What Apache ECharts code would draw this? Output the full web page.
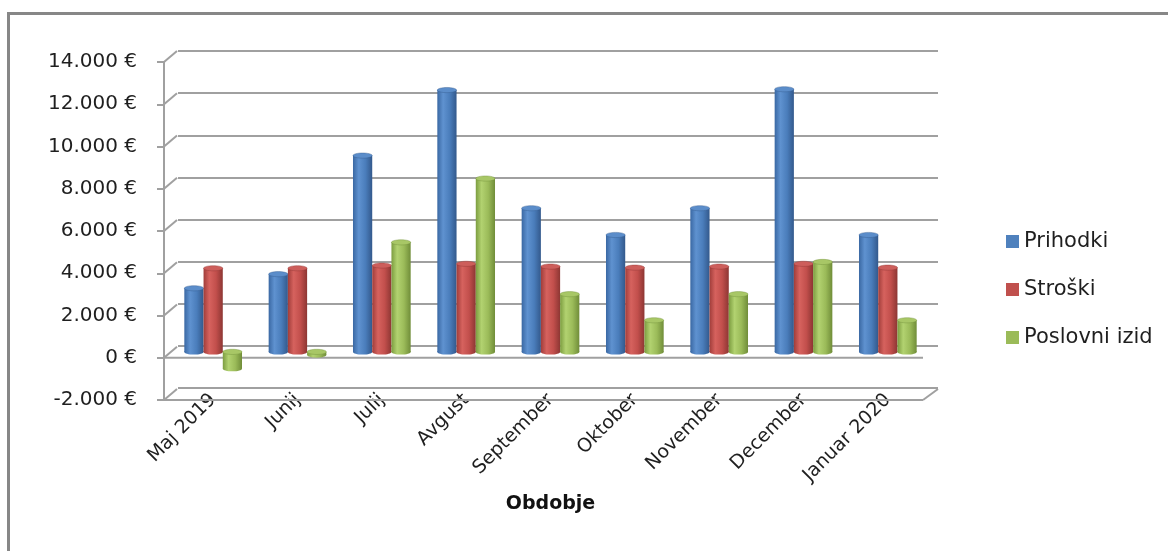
<!DOCTYPE html>
<html><head><meta charset="utf-8">
<script src="https://cdn.jsdelivr.net/npm/echarts@6/dist/echarts.min.js"></script>
<style>
html,body{margin:0;padding:0;background:#fff;overflow:hidden;}
#frame{position:absolute;left:7px;top:12px;width:1200px;height:600px;border-left:3px solid #878787;border-top:3px solid #878787;box-sizing:border-box;}
#chart{position:absolute;left:0;top:0;width:1168px;height:551px;}
</style></head><body>
<div id="frame"></div>
<div id="chart"></div>
<script>
const categories = ['Maj 2019', 'Junij', 'Julij', 'Avgust', 'September', 'Oktober', 'November', 'December', 'Januar 2020'];
const prihodki = [3020, 3690, 9320, 12430, 6820, 5550, 6820, 12470, 5550];
const stroski = [3970, 3970, 4100, 4180, 4050, 4000, 4050, 4180, 4000];
const poslovniIzid = [-800, -150, 5200, 8230, 2740, 1500, 2740, 4270, 1500];
const yTicks = [-2000, 0, 2000, 4000, 6000, 8000, 10000, 12000, 14000];
const seriesNames = ['Prihodki', 'Stroški', 'Poslovni izid'];
const xTitle = 'Obdobje';

const FONT = 'DejaVu Sans';
const palettes = [
  { base: '#4F81BD', stops: ['#3a68a3', '#5f92d0', '#4a7dbb', '#33598c'], top: '#5b8dca' },
  { base: '#C0504D', stops: ['#a03d3a', '#d6625e', '#c24f4c', '#8d3633'], top: '#cd5e5b' },
  { base: '#9BBB59', stops: ['#7c9d40', '#b2d270', '#9bbb59', '#708d39'], top: '#a8c766' }
];

function fmt(v) {
  const s = Math.abs(v).toString().replace(/\B(?=(\d{3})+(?!\d))/g, '.');
  return (v < 0 ? '-' : '') + s + ' €';
}

function cylinder(sIdx) {
  const p = palettes[sIdx];
  return function (params, api) {
    const idx = api.value(0), val = api.value(1);
    const band = api.size([1, 0])[0];
    const w = band * 0.228;
    const cx = api.coord([idx, 0])[0] + (sIdx - 1) * w;
    const y0 = api.coord([idx, 0])[1];
    const y1 = api.coord([idx, val])[1];
    const topY = Math.min(y0, y1), botY = Math.max(y0, y1);
    const rx = w / 2, ry = 2.6;
    const grad = {
      type: 'linear', x: 0, y: 0, x2: 1, y2: 0,
      colorStops: [
        { offset: 0, color: p.stops[0] },
        { offset: 0.3, color: p.stops[1] },
        { offset: 0.65, color: p.stops[2] },
        { offset: 1, color: p.stops[3] }
      ]
    };
    return {
      type: 'group',
      children: [
        { type: 'ellipse', shape: { cx: cx, cy: botY, rx: rx, ry: ry }, style: { fill: grad } },
        { type: 'rect', shape: { x: cx - rx, y: topY, width: w, height: botY - topY }, style: { fill: grad } },
        { type: 'ellipse', shape: { cx: cx, cy: topY, rx: rx, ry: ry }, style: { fill: p.top, stroke: p.stops[3], lineWidth: 0.4 } }
      ]
    };
  };
}

const DX = 13, DY = -11;
function frameItem(params, api) {
  const cs = params.coordSys;
  const v = api.value(1);
  const yf = api.coord([0, v])[1];
  const ls = { stroke: '#a0a0a0', lineWidth: 2 };
  const ch = [
    { type: 'line', shape: { x1: cs.x, y1: yf, x2: cs.x + DX, y2: yf + DY }, style: ls }
  ];
  if (v === 0 || v === yTicks[0]) {
    ch.push({ type: 'line', shape: { x1: cs.x, y1: yf, x2: cs.x + cs.width, y2: yf }, style: ls });
  }
  if (v === yTicks[0]) {
    ch.push({ type: 'line', shape: { x1: cs.x + cs.width, y1: yf, x2: cs.x + cs.width + DX + 2, y2: yf + DY }, style: ls });
  }
  return { type: 'group', children: ch };
}

const valueAxisBase = { type: 'value', min: -2000, max: 14000, interval: 2000 };

const chart = echarts.init(document.getElementById('chart'));
chart.setOption({
  animation: false,
  backgroundColor: 'transparent',
  textStyle: { fontFamily: FONT },
  legend: {
    orient: 'vertical', left: 1001, top: 226,
    itemWidth: 13, itemHeight: 13, itemGap: 27,
    icon: 'rect',
    data: seriesNames,
    textStyle: { fontFamily: FONT, fontSize: 21, color: '#1f1f1f' }
  },
  grid: [
    { left: 178, top: 51, width: 760, height: 337 },   // back wall
    { left: 164, top: 62, width: 759, height: 338 },   // front axis
    { left: 171, top: 57, width: 759, height: 337 }    // mid depth (bars)
  ],
  xAxis: [
    { gridIndex: 0, type: 'category', data: categories, show: false },
    { gridIndex: 1, type: 'category', data: categories, show: false },
    { gridIndex: 2, type: 'category', data: categories,
      axisLine: { show: false }, axisTick: { show: false },
      axisLabel: { rotate: 45, fontSize: 19, fontFamily: FONT, color: '#1f1f1f', margin: 3, interval: 0 },
      name: xTitle, nameLocation: 'middle', nameGap: 101,
      nameTextStyle: { fontSize: 19, fontWeight: 'bold', fontFamily: FONT, color: '#111' }
    }
  ],
  yAxis: [
    Object.assign({ gridIndex: 0, axisLabel: { show: false }, axisLine: { show: false }, axisTick: { show: false },
      splitLine: { show: true, lineStyle: { color: '#a0a0a0', width: 2 } } }, valueAxisBase),
    Object.assign({ gridIndex: 1,
      axisLine: { show: true, lineStyle: { color: '#a0a0a0', width: 2 } },
      axisTick: { show: true, inside: false, length: 7, lineStyle: { color: '#a0a0a0', width: 2 } },
      axisLabel: { formatter: fmt, fontSize: 20, fontFamily: FONT, color: '#1f1f1f', margin: 27 },
      splitLine: { show: false } }, valueAxisBase),
    Object.assign({ gridIndex: 2, show: false, splitLine: { show: false } }, valueAxisBase)
  ],
  series: [
    { type: 'custom', name: 'frame', xAxisIndex: 1, yAxisIndex: 1, z: 1, silent: true,
      renderItem: frameItem, data: yTicks.map(v => [0, v]) },
    { type: 'custom', name: seriesNames[0], xAxisIndex: 2, yAxisIndex: 2, z: 3,
      itemStyle: { color: palettes[0].base }, renderItem: cylinder(0),
      data: prihodki.map((v, i) => [i, v]) },
    { type: 'custom', name: seriesNames[1], xAxisIndex: 2, yAxisIndex: 2, z: 3,
      itemStyle: { color: palettes[1].base }, renderItem: cylinder(1),
      data: stroski.map((v, i) => [i, v]) },
    { type: 'custom', name: seriesNames[2], xAxisIndex: 2, yAxisIndex: 2, z: 3,
      itemStyle: { color: palettes[2].base }, renderItem: cylinder(2),
      data: poslovniIzid.map((v, i) => [i, v]) }
  ]
});
</script>
</body></html>
